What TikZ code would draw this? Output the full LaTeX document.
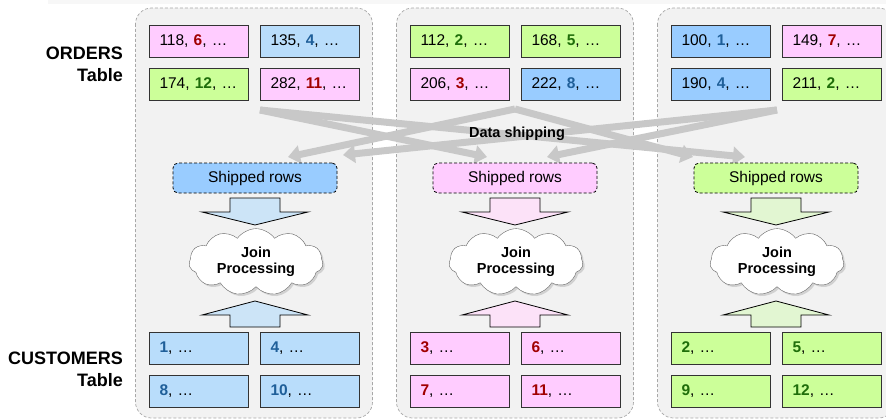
\documentclass[tikz,border=0pt]{standalone}
\usepackage{fontspec}
\setmainfont{Liberation Sans}
\usetikzlibrary{shapes.symbols,shadows,arrows.meta}

\definecolor{panelfill}{HTML}{F2F2F2}
\definecolor{panelline}{HTML}{A8A8A8}
\definecolor{pinkrow}{HTML}{FFCCFF}
\definecolor{bluerow}{HTML}{99CCFF}
\definecolor{paleblue}{HTML}{B9DDFB}
\definecolor{greenrow}{HTML}{CCFF99}
\definecolor{keyred}{HTML}{A00000}
\definecolor{keyblue}{HTML}{1F5F99}
\definecolor{keygreen}{HTML}{1F6E0A}
\definecolor{shipgray}{HTML}{C8C8C8}
\definecolor{arrblue}{HTML}{CCE4F7}
\definecolor{arrpink}{HTML}{FCE2F8}
\definecolor{arrgreen}{HTML}{E2F6D2}

\newcommand{\rkey}[1]{\textcolor{keyred}{\textbf{#1}}}
\newcommand{\bkey}[1]{\textcolor{keyblue}{\textbf{#1}}}
\newcommand{\gkey}[1]{\textcolor{keygreen}{\textbf{#1}}}

\tikzset{
  panel/.style={draw=panelline, dash pattern=on 3pt off 2pt, fill=panelfill, rounded corners=16pt, line width=0.7pt},
  rowbox/.style={draw=black!80, line width=0.8pt, text width=78pt, inner xsep=10.5pt,
    inner ysep=0pt, minimum height=32pt, align=left},
  shipbox/.style={draw, dash pattern=on 3pt off 2pt, rounded corners=5pt, line width=0.8pt,
    minimum width=164pt, minimum height=30pt, inner sep=0pt},
  joincloud/.style={cloud, cloud puffs=11, cloud puff arc=110, aspect=2.1, draw=black!60,
    fill=white, minimum width=134pt, minimum height=63pt, inner sep=0pt, align=center,
    font=\bfseries\fontsize{14.5}{16}\selectfont,
    drop shadow={shadow xshift=2pt, shadow yshift=-2pt, fill=black!30}},
  shiparrow/.style={draw=shipgray, line width=7pt, -{Triangle[length=12pt,width=18pt]}},
  sidelabel/.style={anchor=east, align=right, inner sep=0pt, font=\bfseries\fontsize{18}{22}\selectfont},
  downarr/.pic={\draw[fill=#1, line width=0.8pt] (-25,0) -- (25,0) -- (25,14) -- (53,14)
    -- (0,27) -- (-53,14) -- (-25,14) -- cycle;},
  uparr/.pic={\draw[fill=#1, line width=0.8pt] (0,0) -- (53,14) -- (25,14) -- (25,26)
    -- (-25,26) -- (-25,14) -- (-53,14) -- cycle;}
}

\begin{document}
\begin{tikzpicture}[x=1pt, y=-1pt, font=\fontsize{15.5}{18}\selectfont]
  \clip (0,0) rectangle (886,420);
  \fill[black!3] (48,0) rectangle (886,4);

  % the three sites
  \foreach \cx in {254,515,776}
    \draw[panel] (\cx-118.5,8) rectangle (\cx+118.5,418);

  % ORDERS rows
  \node[rowbox, fill=pinkrow]  (ordA1) at (198.5,41) {118, \rkey{6}, \dots};
  \node[rowbox, fill=paleblue] (ordA2) at (309.5,41) {135, \bkey{4}, \dots};
  \node[rowbox, fill=greenrow] (ordA3) at (198.5,84) {174, \gkey{12}, \dots};
  \node[rowbox, fill=pinkrow]  (ordA4) at (309.5,84) {282, \rkey{11}, \dots};
  \node[rowbox, fill=greenrow] (ordB1) at (459.5,41) {112, \gkey{2}, \dots};
  \node[rowbox, fill=greenrow] (ordB2) at (570.5,41) {168, \gkey{5}, \dots};
  \node[rowbox, fill=pinkrow]  (ordB3) at (459.5,84) {206, \rkey{3}, \dots};
  \node[rowbox, fill=bluerow]  (ordB4) at (570.5,84) {222, \bkey{8}, \dots};
  \node[rowbox, fill=bluerow]  (ordC1) at (720.5,41) {100, \bkey{1}, \dots};
  \node[rowbox, fill=pinkrow]  (ordC2) at (831.5,41) {149, \rkey{7}, \dots};
  \node[rowbox, fill=bluerow]  (ordC3) at (720.5,84) {190, \bkey{4}, \dots};
  \node[rowbox, fill=greenrow] (ordC4) at (831.5,84) {211, \gkey{2}, \dots};

  % data shipping
  \coordinate (srcA) at (260,110);
  \coordinate (srcB) at (515,109);
  \coordinate (srcC) at (777,110);
  \coordinate (toA1) at (288,157);
  \coordinate (toA2) at (343,155);
  \coordinate (toB1) at (487,157);
  \coordinate (toB2) at (547,157);
  \coordinate (toC1) at (693,157);
  \coordinate (toC2) at (745,157);
  \draw[shiparrow] (srcA) -- (toB1);
  \draw[shiparrow] (srcA) -- (toC2);
  \draw[shiparrow] (srcB) -- (toA1);
  \draw[shiparrow] (srcB) -- (toC1);
  \draw[shiparrow] (srcC) -- (toA2);
  \draw[shiparrow] (srcC) -- (toB2);
  \node[font=\bfseries\fontsize{14.5}{16}\selectfont] (shiplabel) at (517,134) {Data shipping};

  % shipped rows and join
  \node[shipbox, fill=bluerow]  (shipA) at (255,178) {Shipped rows};
  \node[shipbox, fill=pinkrow]  (shipB) at (515,178) {Shipped rows};
  \node[shipbox, fill=greenrow] (shipC) at (776,178) {Shipped rows};
  \pic at (255,198) {downarr=arrblue};
  \pic at (515,198) {downarr=arrpink};
  \pic at (776,198) {downarr=arrgreen};
  \node[joincloud] (joinA) at (256,262) {Join\\Processing};
  \node[joincloud] (joinB) at (516,262) {Join\\Processing};
  \node[joincloud] (joinC) at (777,262) {Join\\Processing};
  \pic at (255,301) {uparr=arrblue};
  \pic at (515,301) {uparr=arrpink};
  \pic at (776,301) {uparr=arrgreen};

  % CUSTOMERS rows
  \node[rowbox, fill=paleblue] (cusA1) at (198.5,348) {\bkey{1}, \dots};
  \node[rowbox, fill=paleblue] (cusA2) at (309.5,348) {\bkey{4}, \dots};
  \node[rowbox, fill=paleblue] (cusA3) at (198.5,391) {\bkey{8}, \dots};
  \node[rowbox, fill=paleblue] (cusA4) at (309.5,391) {\bkey{10}, \dots};
  \node[rowbox, fill=pinkrow]  (cusB1) at (459.5,348) {\rkey{3}, \dots};
  \node[rowbox, fill=pinkrow]  (cusB2) at (570.5,348) {\rkey{6}, \dots};
  \node[rowbox, fill=pinkrow]  (cusB3) at (459.5,391) {\rkey{7}, \dots};
  \node[rowbox, fill=pinkrow]  (cusB4) at (570.5,391) {\rkey{11}, \dots};
  \node[rowbox, fill=greenrow] (cusC1) at (720.5,348) {\gkey{2}, \dots};
  \node[rowbox, fill=greenrow] (cusC2) at (831.5,348) {\gkey{5}, \dots};
  \node[rowbox, fill=greenrow] (cusC3) at (720.5,391) {\gkey{9}, \dots};
  \node[rowbox, fill=greenrow] (cusC4) at (831.5,391) {\gkey{12}, \dots};

  % table labels
  \node[sidelabel] (ordlabel) at (123,64) {ORDERS\\Table};
  \node[sidelabel] (cuslabel) at (123,369.5) {CUSTOMERS\\Table};
\end{tikzpicture}
\end{document}
